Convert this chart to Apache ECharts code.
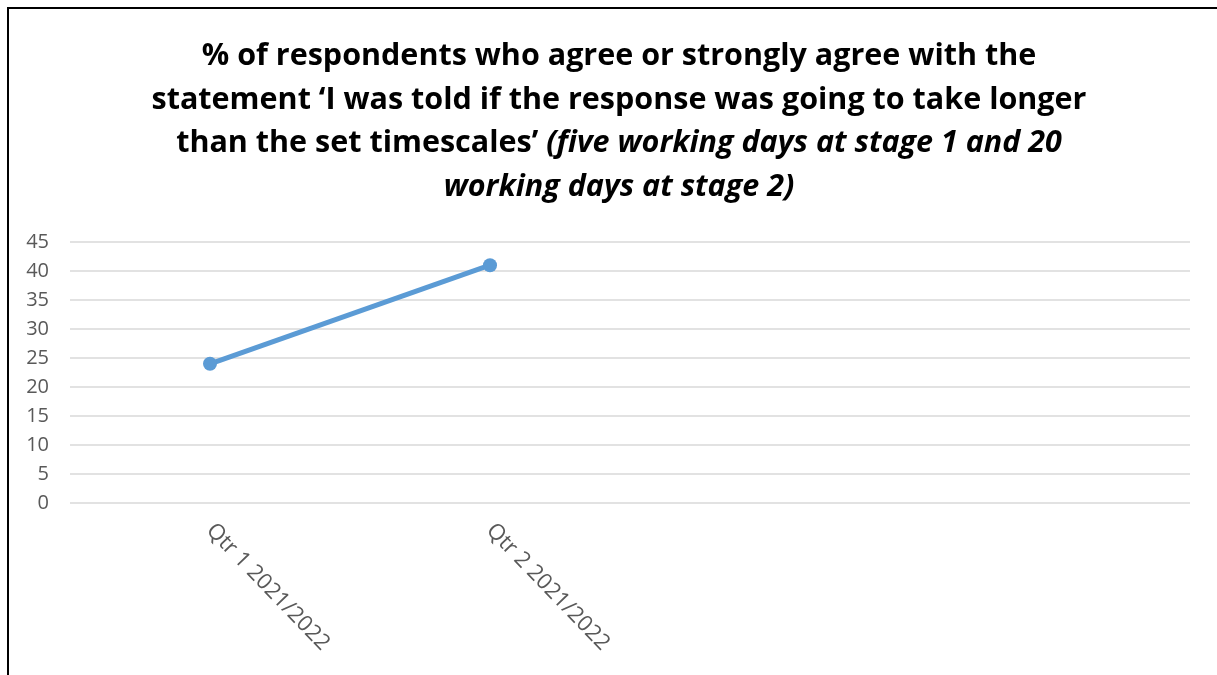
<!DOCTYPE html>
<html>
<head>
<meta charset="utf-8">
<script src="https://cdn.jsdelivr.net/npm/echarts@6/dist/echarts.min.js"></script>
<style>
  html, body { margin: 0; padding: 0; background: #fff; }
  #frame { position: absolute; left: 7px; top: 7px; width: 1210px; height: 668px;
           border-left: 2px solid #000; border-top: 2px solid #000; box-sizing: border-box; }
  #chart { position: absolute; left: 0; top: 0; width: 1217px; height: 675px; }
</style>
</head>
<body>
<div id="frame"></div>
<div id="chart"></div>
<script>
// data
var quarters = ['Qtr 1 2021/2022', 'Qtr 2 2021/2022', '', ''];
var agreePct = [24, 41, null, null];

var chart = echarts.init(document.getElementById('chart'));
var option = {
  backgroundColor: 'transparent',
  title: {
    text: '{b|% of respondents who agree or strongly agree with the}\n' +
          '{b|statement \u2018I was told if the response was going to take longer}\n' +
          '{b|than the set timescales\u2019 }{i|(five working days at stage 1 and 20}\n' +
          '{i|working days at stage 2)}',
    left: 614,
    top: 30,
    textAlign: 'center',
    textStyle: {
      rich: {
        b: { fontFamily: 'Open Sans', fontWeight: 'bold', fontSize: 30.5, color: '#000', lineHeight: 43.5 },
        i: { fontFamily: 'Open Sans', fontWeight: 'bold', fontStyle: 'italic', fontSize: 30.5, color: '#000', lineHeight: 43.5 }
      }
    }
  },
  grid: {
    left: 70,
    right: 27,
    top: 242,
    bottom: 172,
    containLabel: false
  },
  xAxis: {
    type: 'category',
    data: quarters,
    axisLine: { show: false },
    axisTick: { show: false },
    axisLabel: {
      rotate: -46,
      interval: 0,
      margin: 24,
      color: '#595959',
      fontSize: 22,
      fontFamily: 'Open Sans'
    }
  },
  yAxis: {
    type: 'value',
    min: 0,
    max: 45,
    interval: 5,
    axisLine: { show: false },
    axisTick: { show: false },
    axisLabel: {
      color: '#595959',
      fontSize: 20,
      fontFamily: 'Open Sans',
      margin: 21
    },
    splitLine: { lineStyle: { color: '#d9d9d9', width: 1.5 } }
  },
  series: [
    {
      name: '% agree',
      type: 'line',
      data: agreePct,
      symbol: 'circle',
      symbolSize: 14,
      lineStyle: { color: '#5b9bd5', width: 5 },
      itemStyle: { color: '#5b9bd5' },
      connectNulls: false
    }
  ]
};
chart.setOption(option);
</script>
</body>
</html>
